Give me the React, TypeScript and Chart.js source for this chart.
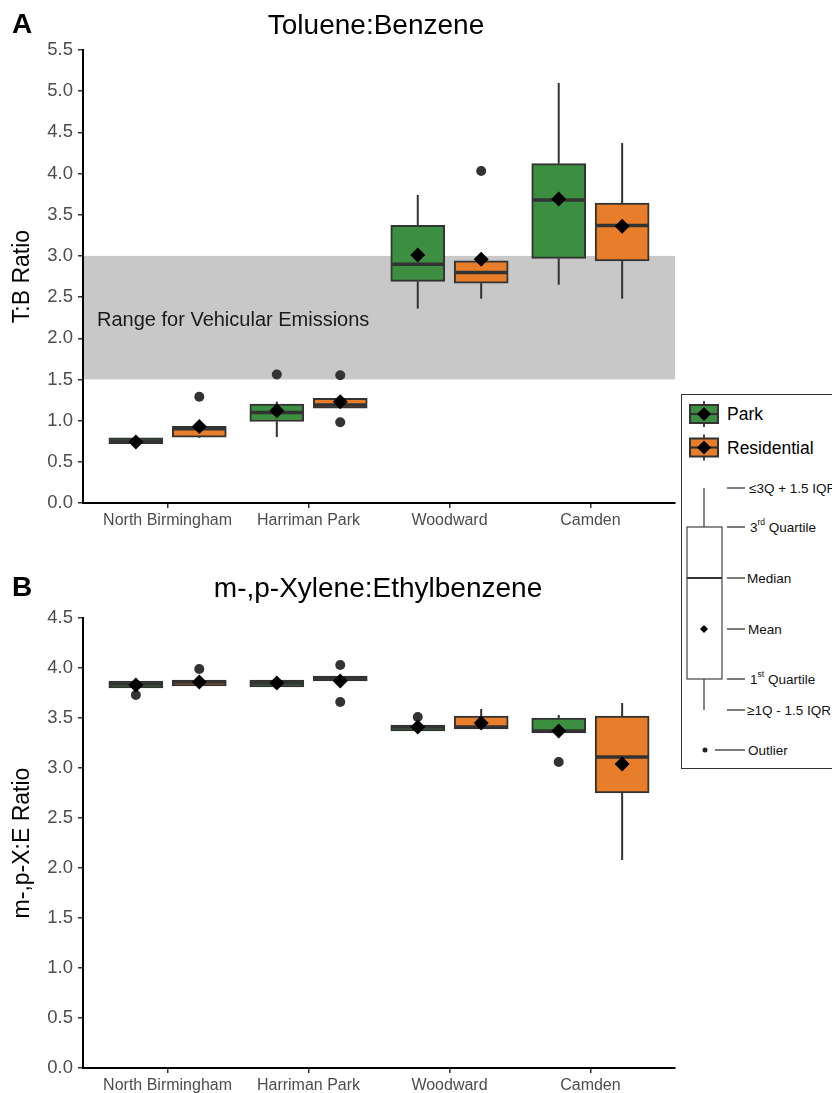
import React, { useEffect, useRef } from "react";
import { Chart, registerables } from "chart.js";

Chart.register(...registerables);

const FONT = '"Liberation Sans", Arial, Helvetica, sans-serif';

// ---------- data ----------
const categories = ["North Birmingham", "Harriman Park", "Woodward", "Camden"];
const seriesNames = ["Park", "Residential"];

// Box statistics per category: [lower whisker, Q1, median, Q3, upper whisker]
// Panel A: Toluene:Benzene
const tbParkStats = [
  [0.72, 0.72, 0.75, 0.79, 0.79],
  [0.8, 0.99, 1.1, 1.2, 1.23],
  [2.36, 2.69, 2.9, 3.37, 3.74],
  [2.65, 2.97, 3.68, 4.12, 5.1],
];
const tbResStats = [
  [0.79, 0.8, 0.9, 0.93, 0.94],
  [1.15, 1.15, 1.19, 1.27, 1.27],
  [2.48, 2.67, 2.8, 2.94, 2.94],
  [2.48, 2.94, 3.37, 3.64, 4.37],
];
const tbParkMeans = [0.74, 1.12, 3.01, 3.69];
const tbResMeans = [0.93, 1.23, 2.96, 3.36];
// outliers: [category index, value]
const tbParkOutliers = [[1, 1.56]];
const tbResOutliers = [
  [0, 1.29],
  [1, 1.55],
  [1, 0.98],
  [2, 4.03],
];

// Panel B: m-,p-Xylene:Ethylbenzene
const xeParkStats = [
  [3.8, 3.8, 3.84, 3.87, 3.87],
  [3.81, 3.81, 3.85, 3.88, 3.88],
  [3.37, 3.37, 3.41, 3.43, 3.43],
  [3.35, 3.35, 3.37, 3.5, 3.53],
];
const xeResStats = [
  [3.82, 3.82, 3.86, 3.88, 3.88],
  [3.87, 3.87, 3.9, 3.92, 3.92],
  [3.39, 3.39, 3.41, 3.52, 3.59],
  [2.08, 2.75, 3.11, 3.52, 3.65],
];
const xeParkMeans = [3.83, 3.85, 3.41, 3.37];
const xeResMeans = [3.86, 3.87, 3.45, 3.04];
const xeParkOutliers = [
  [0, 3.73],
  [2, 3.51],
  [3, 3.06],
];
const xeResOutliers = [
  [0, 3.99],
  [1, 4.03],
  [1, 3.66],
];

const vehicularRange = [1.5, 3.0];
const vehicularLabel = "Range for Vehicular Emissions";

// ---------- styles ----------
const PARK = "#3C8E41";
const RES = "#E97E2A";
const EDGE = "#333333";
const GROUP_OFFSET = 0.225;
const BOX_PX = 54;

const boxPlugin = {
  id: "boxExtras",
  beforeDraw(chart: any, _args: any, opts: any) {
    const band = opts && opts.band;
    if (!band) return;
    const { ctx, chartArea } = chart;
    const y = chart.scales.y;
    const top = y.getPixelForValue(band.range[1]);
    const bottom = y.getPixelForValue(band.range[0]);
    ctx.save();
    ctx.fillStyle = "#C8C8C8";
    ctx.fillRect(chartArea.left, top, chartArea.right - chartArea.left, bottom - top);
    ctx.fillStyle = "#1a1a1a";
    ctx.font = `20px ${FONT}`;
    ctx.textBaseline = "middle";
    ctx.textAlign = "left";
    ctx.fillText(band.label, chartArea.left + 14, y.getPixelForValue(band.labelAt));
    ctx.restore();
  },
  afterDatasetDraw(chart: any, args: any) {
    const ds = chart.data.datasets[args.index];
    if (!ds.stats) return;
    const { ctx } = chart;
    const y = chart.scales.y;
    const meta = args.meta;
    ctx.save();
    ds.stats.forEach((s: number[], i: number) => {
      const el = meta.data[i];
      if (!el) return;
      const x = el.x;
      const half = el.width / 2;
      ctx.strokeStyle = EDGE;
      ctx.lineCap = "butt";
      ctx.lineWidth = 2;
      if (s[0] < s[1]) {
        ctx.beginPath();
        ctx.moveTo(x, y.getPixelForValue(s[1]));
        ctx.lineTo(x, y.getPixelForValue(s[0]));
        ctx.stroke();
      }
      if (s[4] > s[3]) {
        ctx.beginPath();
        ctx.moveTo(x, y.getPixelForValue(s[3]));
        ctx.lineTo(x, y.getPixelForValue(s[4]));
        ctx.stroke();
      }
      ctx.lineWidth = 3.5;
      const my = y.getPixelForValue(s[2]);
      ctx.beginPath();
      ctx.moveTo(x - half + 1, my);
      ctx.lineTo(x + half - 1, my);
      ctx.stroke();
    });
    ctx.restore();
  },
  afterDraw(chart: any, _args: any, opts: any) {
    const p = opts && opts.panel;
    if (!p) return;
    const { ctx } = chart;
    ctx.save();
    ctx.fillStyle = "#000";
    ctx.textBaseline = "middle";
    ctx.textAlign = "left";
    ctx.font = `bold 28px ${FONT}`;
    ctx.fillText(p.letter, 12, p.y);
    ctx.textAlign = "center";
    ctx.font = `28px ${FONT}`;
    ctx.fillText(p.title, p.titleX, p.y + 1);
    ctx.restore();
  },
};

function buildConfig(opts: any) {
  const {
    parkStats,
    resStats,
    parkMeans,
    resMeans,
    parkOut,
    resOut,
    yMax,
    yTitle,
    padTop,
    xHeight,
    band,
    panel,
  } = opts;
  const xPos = (i: number, g: number) => i + 1 + (g === 0 ? -GROUP_OFFSET : GROUP_OFFSET);
  const boxDs = (stats: number[][], g: number, color: string) => ({
    type: "bar",
    label: seriesNames[g],
    data: stats.map((s, i) => ({ x: xPos(i, g), y: [s[1], s[3]] })),
    stats,
    backgroundColor: color,
    borderColor: EDGE,
    borderWidth: 2,
    borderSkipped: false,
    barThickness: BOX_PX,
    grouped: false,
    order: 3,
  });
  const meanDs = (means: number[], g: number) => ({
    type: "scatter",
    label: seriesNames[g] + " mean",
    data: means.map((m, i) => ({ x: xPos(i, g), y: m })),
    pointStyle: "rectRot",
    pointRadius: 7.5,
    backgroundColor: "#000",
    borderColor: "#000",
    borderWidth: 0,
    order: 1,
  });
  const outDs = (outs: number[][], g: number) => ({
    type: "scatter",
    label: seriesNames[g] + " outliers",
    data: outs.map(([i, v]) => ({ x: xPos(i, g), y: v })),
    pointStyle: "circle",
    pointRadius: 5,
    backgroundColor: EDGE,
    borderColor: EDGE,
    borderWidth: 0,
    order: 2,
  });
  return {
    type: "bar",
    data: {
      datasets: [
        boxDs(parkStats, 0, PARK),
        boxDs(resStats, 1, RES),
        outDs(parkOut, 0),
        outDs(resOut, 1),
        meanDs(parkMeans, 0),
        meanDs(resMeans, 1),
      ],
    },
    plugins: [boxPlugin],
    options: {
      responsive: false,
      devicePixelRatio: 1,
      animation: false,
      events: [],
      layout: { padding: { top: padTop, right: 157, left: 0, bottom: 0 } },
      plugins: {
        legend: { display: false },
        tooltip: { enabled: false },
        title: { display: false },
        boxExtras: { band, panel },
      },
      scales: {
        x: {
          type: "linear",
          min: 0.4,
          max: 4.6,
          offset: false,
          afterBuildTicks: (scale: any) => {
            scale.ticks = categories.map((_, i) => ({ value: i + 1 }));
          },
          afterFit: (scale: any) => {
            scale.height = xHeight;
          },
          ticks: {
            autoSkip: false,
            maxRotation: 0,
            padding: 3,
            color: "#4D4D4D",
            font: { family: FONT, size: 16 },
            callback: (v: any) => categories[Math.round(Number(v)) - 1] || "",
          },
          grid: {
            offset: false,
            drawOnChartArea: false,
            drawTicks: true,
            tickLength: 5,
            color: EDGE,
            lineWidth: 1.5,
          },
          border: { display: true, color: "#000", width: 2 },
        },
        y: {
          type: "linear",
          min: 0,
          max: yMax,
          afterFit: (scale: any) => {
            scale.width = 83;
          },
          ticks: {
            stepSize: 0.5,
            padding: 5,
            color: "#4D4D4D",
            font: { family: FONT, size: 18.5 },
            callback: (v: any) => Number(v).toFixed(1),
          },
          grid: {
            drawOnChartArea: false,
            drawTicks: true,
            tickLength: 5,
            color: EDGE,
            lineWidth: 1.5,
          },
          border: { display: true, color: "#000", width: 2 },
          title: {
            display: true,
            text: yTitle,
            color: "#000",
            font: { family: FONT, size: 23 },
            padding: { top: 9, bottom: 0 },
          },
        },
      },
    },
  };
}

function Legend() {
  const lab = { fontFamily: FONT, fontSize: 13.5, fill: "#111" } as any;
  const big = { fontFamily: FONT, fontSize: 17.5 } as any;
  const key = (cy: number, color: string) => (
    <g>
      <line x1={23} x2={23} y1={cy - 13} y2={cy + 13} stroke={EDGE} strokeWidth={1.8} />
      <rect x={9} y={cy - 9} width={28} height={18} fill={color} stroke={EDGE} strokeWidth={2} />
      <line x1={10} x2={36} y1={cy} y2={cy} stroke={EDGE} strokeWidth={2.2} />
      <polygon points={`23,${cy - 7} 30,${cy} 23,${cy + 7} 16,${cy}`} fill="#000" />
    </g>
  );
  const tick = (y: number, x2 = 64) => (
    <line x1={46} x2={x2} y1={y} y2={y} stroke="#222" strokeWidth={1.2} />
  );
  return (
    <svg
      width={151}
      height={378}
      style={{ position: "absolute", left: 681, top: 394 }}
    >
      <rect x={0.5} y={0.5} width={200} height={374} fill="#fff" stroke="#333" strokeWidth={1} />
      {key(20, PARK)}
      <text x={46} y={20} dominantBaseline="central" style={big} fill="#000">
        {seriesNames[0]}
      </text>
      {key(53.5, RES)}
      <text x={46} y={53.5} dominantBaseline="central" style={big} fill="#000">
        {seriesNames[1]}
      </text>

      {/* schematic box */}
      <line x1={23} x2={23} y1={94} y2={133} stroke="#444" strokeWidth={1.3} />
      <line x1={23} x2={23} y1={285} y2={316} stroke="#444" strokeWidth={1.3} />
      <rect x={6} y={133} width={35} height={152} fill="#fff" stroke="#333" strokeWidth={1.1} />
      <line x1={6} x2={41} y1={184} y2={184} stroke="#333" strokeWidth={2} />
      <polygon points="23,231 27,235 23,239 19,235" fill="#000" />
      <circle cx={24} cy={356} r={2.5} fill="#222" />

      {tick(94)}
      <text x={68} y={94} dominantBaseline="central" style={lab}>≤3Q + 1.5 IQR</text>
      {tick(133)}
      <text x={69} y={133} dominantBaseline="central" style={lab}>
        3<tspan fontSize={8.5} dy={-5}>rd</tspan>
        <tspan dy={5}> Quartile</tspan>
      </text>
      {tick(184)}
      <text x={66} y={184} dominantBaseline="central" style={lab}>Median</text>
      {tick(235)}
      <text x={67} y={235} dominantBaseline="central" style={lab}>Mean</text>
      {tick(285)}
      <text x={69} y={285} dominantBaseline="central" style={lab}>
        1<tspan fontSize={8.5} dy={-5}>st</tspan>
        <tspan dy={5}> Quartile</tspan>
      </text>
      {tick(316)}
      <text x={66} y={316} dominantBaseline="central" style={lab}>≥1Q - 1.5 IQR</text>
      <line x1={34} x2={64} y1={356} y2={356} stroke="#222" strokeWidth={1.2} />
      <text x={67} y={356} dominantBaseline="central" style={lab}>Outlier</text>
    </svg>
  );
}

export default function App() {
  const refA = useRef<HTMLCanvasElement | null>(null);
  const refB = useRef<HTMLCanvasElement | null>(null);

  useEffect(() => {
    Chart.defaults.font.family = FONT;
    const a = new Chart(
      refA.current as any,
      buildConfig({
        parkStats: tbParkStats,
        resStats: tbResStats,
        parkMeans: tbParkMeans,
        resMeans: tbResMeans,
        parkOut: tbParkOutliers,
        resOut: tbResOutliers,
        yMax: 5.5,
        yTitle: "T:B Ratio",
        padTop: 50,
        xHeight: 35,
        band: { range: vehicularRange, label: vehicularLabel, labelAt: 2.22 },
        panel: { letter: "A", title: "Toluene:Benzene", titleX: 376, y: 25 },
      }) as any
    );
    const b = new Chart(
      refB.current as any,
      buildConfig({
        parkStats: xeParkStats,
        resStats: xeResStats,
        parkMeans: xeParkMeans,
        resMeans: xeResMeans,
        parkOut: xeParkOutliers,
        resOut: xeResOutliers,
        yMax: 4.5,
        yTitle: "m-,p-X:E Ratio",
        padTop: 80,
        xHeight: 25,
        band: null,
        panel: { letter: "B", title: "m-,p-Xylene:Ethylbenzene", titleX: 378, y: 50 },
      }) as any
    );
    return () => {
      a.destroy();
      b.destroy();
    };
  }, []);

  return (
    <div
      style={{
        position: "absolute",
        left: 0,
        top: 0,
        width: 832,
        height: 1093,
        overflow: "hidden",
        background: "#fff",
      }}
    >
      <canvas
        ref={refA}
        width={832}
        height={538}
        style={{ position: "absolute", left: 0, top: 0, width: 832, height: 538 }}
      />
      <canvas
        ref={refB}
        width={832}
        height={555}
        style={{ position: "absolute", left: 0, top: 538, width: 832, height: 555 }}
      />
      <Legend />
    </div>
  );
}
